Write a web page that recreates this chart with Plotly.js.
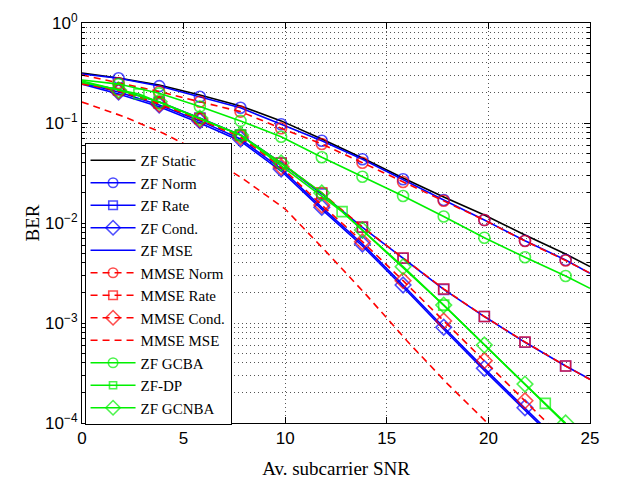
<!DOCTYPE html>
<html><head><meta charset="utf-8">
<script src="https://cdn.plot.ly/plotly-3.0.1.min.js"></script>
<style>html,body{margin:0;padding:0;background:#fff}#chart{width:618px;height:486px}</style>
</head><body><div id="chart"></div>
<script>
// SNR sample points (markers at the inner points)
const snr = [0, 1.8, 3.8, 5.8, 7.8, 9.8, 11.8, 13.8, 15.8, 17.8, 19.8, 21.8, 23.8, 25];
const snrDP = [0, 2.8, 7.8, 12.8, 17.8, 22.8, 25];
const snrMMSE = [0, 2, 4, 6, 8, 10, 12, 14, 16, 18, 20];

const zfStatic = [0.316, 0.282, 0.240, 0.191, 0.148, 0.105, 0.0692, 0.0447, 0.0282, 0.0182, 0.0120, 0.00759, 0.00490, 0.00366];
const zfNorm   = [0.309, 0.280, 0.234, 0.183, 0.142, 0.0970, 0.0665, 0.0434, 0.0274, 0.0170, 0.0107, 0.00665, 0.00427, 0.00314];
const zfRate   = [0.251, 0.216, 0.162, 0.112, 0.0759, 0.0398, 0.0195, 0.00906, 0.00444, 0.00217, 0.00116, 0.000641, 0.000372, 0.000274];
const zfCond   = [0.251, 0.204, 0.151, 0.105, 0.0692, 0.0347, 0.01435, 0.00617, 0.00240, 0.000906, 0.000352, 0.000142, 0.0000562];
const zfMSE    = [0.245, 0.195, 0.145, 0.100, 0.0660, 0.0331, 0.0137, 0.00589, 0.00229, 0.000865, 0.000336, 0.000136, 0.0000537];
const mmseNorm = [0.302, 0.251, 0.206, 0.163, 0.130, 0.0885, 0.0617, 0.0401, 0.0257, 0.0167, 0.0107, 0.00661, 0.00422, 0.00316];
const mmseRate = [0.245, 0.214, 0.158, 0.111, 0.0750, 0.0398, 0.0200, 0.00912, 0.00447, 0.00219, 0.00116, 0.000646, 0.000372, 0.000272];
const mmseCond = [0.251, 0.209, 0.155, 0.108, 0.0724, 0.0363, 0.0151, 0.0065, 0.00265, 0.00105, 0.00042, 0.000167, 0.000066];
const mmseMSE  = [0.162, 0.117, 0.079, 0.049, 0.027, 0.0138, 0.0052, 0.0019, 0.00066, 0.000245, 0.0000977];
const zfGCBA   = [0.269, 0.245, 0.198, 0.146, 0.105, 0.0729, 0.0454, 0.0290, 0.0186, 0.0116, 0.00713, 0.00454, 0.00295, 0.00222];
const zfDP     = [0.255, 0.195, 0.0759, 0.0130, 0.00151, 0.000157, 0.0000562];
const zfGCNBA  = [0.263, 0.214, 0.163, 0.112, 0.0759, 0.0398, 0.0200, 0.00851, 0.00366, 0.00151, 0.000603, 0.000245, 0.000100];

const names = ['ZF Static','ZF Norm','ZF Rate','ZF Cond.','ZF MSE','MMSE Norm','MMSE Rate','MMSE Cond.','MMSE MSE','ZF GCBA','ZF-DP','ZF GCNBA'];

const BLUE = '#0000ff', RED = '#ff0000', GREEN = '#00f000', BLACK = '#000000';
const DASH = '7px,5px';
const SERIF = '"Liberation Serif", "Times New Roman", serif';
const SANS = '"Liberation Sans", Arial, sans-serif';

function sizes(xs, s) { return xs.map(x => (x === 0 || x === 25) ? 0 : s); }

function tr(name, xs, ys, color, dash, symbol, msize) {
  const t = {
    name: name, x: xs, y: ys, type: 'scatter',
    mode: symbol ? 'lines+markers' : 'lines',
    line: {color: color, width: 1.6, dash: dash || 'solid'}
  };
  if (symbol) {
    t.marker = {symbol: symbol, size: sizes(xs, msize), color: color, line: {color: color, width: 1.6}};
  }
  return t;
}

const data = [
  tr(names[0], snr, zfStatic, BLACK, null, null),
  tr(names[1], snr, zfNorm, BLUE, null, 'circle-open', 11),
  tr(names[2], snr, zfRate, BLUE, null, 'square-open', 10),
  tr(names[3], snr.slice(0, zfCond.length), zfCond, BLUE, null, 'diamond-open', 12),
  tr(names[4], snr.slice(0, zfMSE.length), zfMSE, BLUE, null, null),
  tr(names[5], snr, mmseNorm, RED, DASH, 'circle-open', 11),
  tr(names[6], snr, mmseRate, RED, DASH, 'square-open', 10),
  tr(names[7], snr.slice(0, mmseCond.length), mmseCond, RED, DASH, 'diamond-open', 12),
  tr(names[8], snrMMSE, mmseMSE, RED, DASH, null),
  tr(names[9], snr, zfGCBA, GREEN, null, 'circle-open', 11),
  tr(names[10], snrDP, zfDP, GREEN, null, 'square-open', 10),
  tr(names[11], snr.slice(0, zfGCNBA.length), zfGCNBA, GREEN, null, 'diamond-open', 12)
];

const yTickVals = [1, 0.1, 0.01, 0.001, 0.0001];
const yTickText = ['10<sup>0</sup>', '10<sup>\u22121</sup>', '10<sup>\u22122</sup>', '10<sup>\u22123</sup>', '10<sup>\u22124</sup>'];
const xTickVals = [0, 5, 10, 15, 20, 25];

const gridCol = '#555555';
const GDASH = '1px,3px';
const layout = {
  width: 618, height: 486,
  margin: {l: 82, r: 28, t: 23, b: 63},
  paper_bgcolor: '#ffffff', plot_bgcolor: '#ffffff',
  showlegend: true,
  font: {family: SANS, size: 17, color: '#000'},
  xaxis: {
    range: [0, 25], tickvals: xTickVals, ticks: 'inside', ticklen: 6, tickcolor: '#000',
    showline: true, linecolor: '#000', linewidth: 1, mirror: 'ticks',
    showgrid: true, gridcolor: gridCol, griddash: GDASH, gridwidth: 1, zeroline: false,
    tickfont: {family: SANS, size: 17},
    title: {text: 'Av. subcarrier SNR', font: {family: SERIF, size: 19}, standoff: 14}
  },
  yaxis: {
    type: 'log', range: [-4, 0], tickvals: yTickVals, ticktext: yTickText,
    ticks: 'inside', ticklen: 6, tickcolor: '#000',
    showline: true, linecolor: '#000', linewidth: 1, mirror: 'ticks',
    showgrid: true, gridcolor: gridCol, griddash: GDASH, gridwidth: 1, zeroline: false,
    minor: {dtick: 'D1', ticks: 'inside', ticklen: 3, tickcolor: '#000', showgrid: true, gridcolor: gridCol, griddash: GDASH, gridwidth: 1},
    tickfont: {family: SANS, size: 17},
    title: {text: 'BER', font: {family: SERIF, size: 19}, standoff: 0}
  },
  legend: {
    x: 0.005, y: 0.70, xanchor: 'left', yanchor: 'top',
    bgcolor: '#ffffff', bordercolor: '#000', borderwidth: 1,
    font: {family: SERIF, size: 15, color: '#000'},
    tracegroupgap: 0, itemwidth: 45, entrywidth: 150
  }
};

Plotly.newPlot('chart', data, layout, {staticPlot: true, displayModeBar: false});
</script>
</body></html>
